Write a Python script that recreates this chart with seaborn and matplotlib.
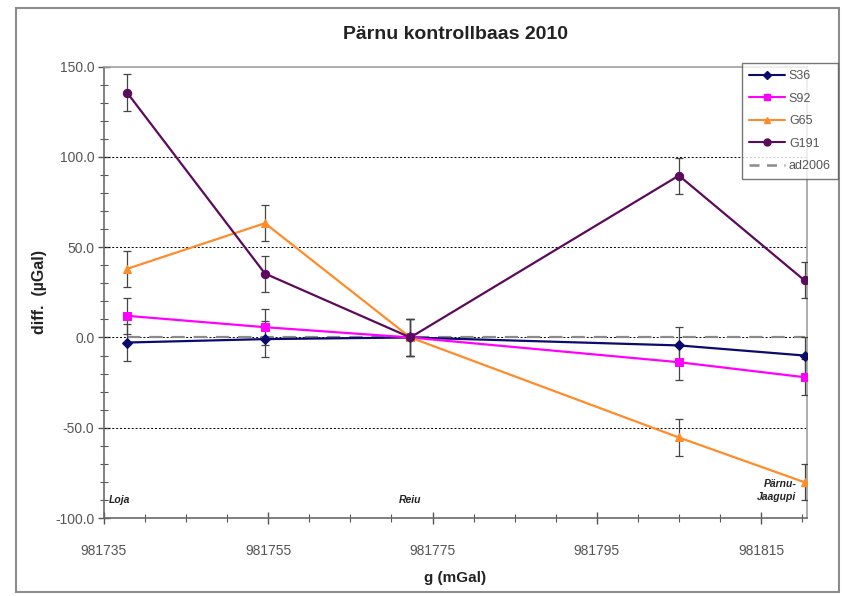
import numpy as np
import pandas as pd
import matplotlib
matplotlib.use("Agg")
import matplotlib.pyplot as plt
import seaborn as sns
from matplotlib.ticker import MultipleLocator, FormatStrFormatter
from matplotlib.lines import Line2D
from matplotlib.patches import Rectangle

# ---- data ----
g_values = [981737.8, 981754.6, 981772.3, 981805.0, 981820.3]
s36 = [-2.8, -0.9, 0.0, -4.4, -10.0]
s92 = [12.0, 5.7, 0.0, -13.7, -22.0]
g65 = [38.0, 63.3, 0.0, -55.4, -80.2]
g191 = [135.7, 35.4, 0.0, 89.7, 31.6]
ad2006 = [0.0, 0.0, 0.0, 0.0, 0.0]
err = [10, 10, 10, 10, 10]
series_names = ["S36", "S92", "G65", "G191"]

sns.set_theme(style="white")
plt.rcParams['font.family'] = ['Liberation Sans', 'DejaVu Sans']

fig = plt.figure(figsize=(8.42, 5.96), dpi=100)
ax = fig.add_axes([104/842, 1 - 518/596, (807-104)/842, (518-66.7)/596])

# outer chart border
fig.patches.append(Rectangle((16/842, 4/596), (839-16)/842, (588-4)/596,
                             transform=fig.transFigure, fill=False,
                             edgecolor='#8c8c8c', linewidth=1.5, zorder=0))

# gridlines
for yv in [100, 50, 0, -50]:
    ax.axhline(yv, color='black', linestyle=(0, (2, 2)), linewidth=0.7, zorder=1)

df_ad = pd.DataFrame({"g": g_values, "v": ad2006})
sns.lineplot(data=df_ad, x="g", y="v", ax=ax, color='#8a8a8a', linewidth=1.6,
             zorder=2)
ax.lines[-1].set_dashes((6, 4))

styles = {
    "S36": dict(color='#0b0b6e', marker='D', ms=5),
    "S92": dict(color='#ff00ff', marker='s', ms=6),
    "G65": dict(color='#ff8c2a', marker='^', ms=6),
    "G191": dict(color='#5c0a5c', marker='o', ms=6),
}
data = {"S36": s36, "S92": s92, "G65": g65, "G191": g191}

for name in series_names:
    st = styles[name]
    df = pd.DataFrame({"g": g_values, "v": data[name]})
    ax.errorbar(g_values, data[name], yerr=err, fmt='none', ecolor='#444444',
                elinewidth=0.9, capsize=3, capthick=0.9, zorder=3)
    sns.lineplot(data=df, x="g", y="v", ax=ax, color=st['color'], linewidth=1.6,
                 marker=st['marker'], markersize=st['ms'],
                 markeredgecolor=st['color'], zorder=4)

# station labels
ax.text(981735.6, -93, "Loja", fontsize=7.5, fontstyle='italic', fontweight='bold',
        ha='left', va='bottom', color='#222222')
ax.text(981772.3, -93, "Reiu", fontsize=7.5, fontstyle='italic', fontweight='bold',
        ha='center', va='bottom', color='#222222')
ax.text(981819.3, -91, "Pärnu-\nJaagupi", fontsize=7.5, fontstyle='italic', fontweight='bold',
        ha='right', va='bottom', color='#222222', multialignment='right', linespacing=1.3)

ax.set_xlim(981735, 981820.6)
ax.set_ylim(-100, 150)
ax.xaxis.set_major_locator(MultipleLocator(20, offset=15))
ax.xaxis.set_minor_locator(MultipleLocator(5))
ax.yaxis.set_major_locator(MultipleLocator(50))
ax.yaxis.set_minor_locator(MultipleLocator(10))
ax.xaxis.set_major_formatter(FormatStrFormatter('%d'))
ax.yaxis.set_major_formatter(FormatStrFormatter('%.1f'))
ax.tick_params(axis='both', which='major', direction='inout', length=8, width=1,
               color='#555555', labelsize=10, labelcolor='#555555', bottom=True, left=True)
ax.tick_params(axis='x', which='major', pad=15)
ax.tick_params(axis='y', which='major', pad=3)
ax.tick_params(axis='both', which='minor', direction='inout', length=6, width=0.8,
               color='#555555', bottom=True, left=True)

for s in ['left', 'bottom']:
    ax.spines[s].set_color('#6a6a6a')
    ax.spines[s].set_linewidth(1.2)
for s in ['top', 'right']:
    ax.spines[s].set_color('#a0a0a0')
    ax.spines[s].set_linewidth(1.2)

ax.set_xlabel("g (mGal)", fontsize=11, fontweight='bold', labelpad=9, color='#222222')
ax.set_ylabel("diff.  (µGal)", fontsize=11.5, fontweight='bold', labelpad=6, color='#222222')
ax.set_title("Pärnu kontrollbaas 2010", fontsize=14, fontweight='bold', pad=20, color='#222222')

handles = [Line2D([0], [0], color=styles[n]['color'], marker=styles[n]['marker'],
                  markersize=styles[n]['ms'] - 1, linewidth=1.5) for n in series_names]
handles.append(Line2D([0], [0], color='#8a8a8a', linewidth=1.8, dashes=(4, 3)))
leg = fig.legend(handles, series_names + ["ad2006"], loc='upper left',
                 bbox_to_anchor=(742/842, 1 - 63/596), fontsize=9, frameon=True,
                 fancybox=False, edgecolor='#555555', borderpad=0.55, labelspacing=0.85,
                 handlelength=2.9, handletextpad=0.3, borderaxespad=0)
leg.get_frame().set_linewidth(1.0)
for t in leg.get_texts():
    t.set_color('#555555')

fig.savefig("out.png", dpi=100)
